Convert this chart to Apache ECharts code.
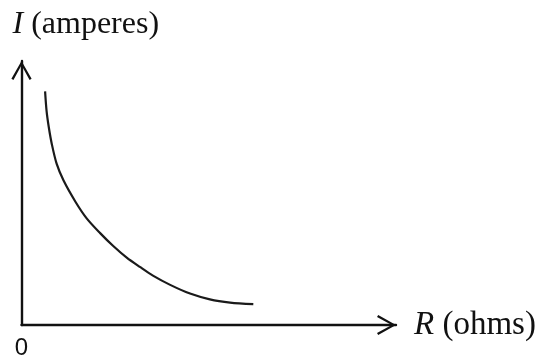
<!DOCTYPE html>
<html>
<head>
<meta charset="utf-8">
<script src="https://cdn.jsdelivr.net/npm/echarts@6/dist/echarts.min.js"></script>
<style>
  html, body { margin: 0; padding: 0; background: #fff; }
  #chart { width: 539px; height: 360px; }
</style>
</head>
<body>
<div id="chart"></div>
<script>
// Resistance values (arbitrary units along the R axis)
const resistance = [0.63, 0.67, 0.73, 0.81, 0.94, 1.12, 1.44, 1.74, 2.10, 2.45, 2.81, 3.16, 3.51, 3.97, 4.50, 5.03, 5.57, 6.19];
// Current values at each resistance (arbitrary units along the I axis)
const current = [8.85, 8.10, 7.48, 6.85, 6.10, 5.48, 4.67, 4.04, 3.48, 2.99, 2.55, 2.20, 1.87, 1.52, 1.19, 0.97, 0.85, 0.79];
// Only the origin carries a tick label
const tickLabels = ['0'];

const curve = resistance.map((r, i) => [r, current[i]]);

// Open "V" arrowhead drawn as a thin chevron outline
const chevron = 'path://M10,0 L20,17.6 L18,18.8 L10,4.2 L2,18.8 L0,17.6 Z';

const axisLine = {
  show: true,
  onZero: false,
  symbol: ['none', chevron],
  symbolSize: [21, 19],
  symbolOffset: [0, -9.5],
  lineStyle: { color: '#111', width: 2.4 }
};

const chart = echarts.init(document.getElementById('chart'), null, { renderer: 'canvas' });
chart.setOption({
  backgroundColor: '#fff',
  animation: false,
  grid: { left: 21.5, top: 61, width: 374.5, height: 267, containLabel: false },
  xAxis: {
    type: 'value',
    min: 0, max: 10, interval: 10,
    axisLine: axisLine,
    axisTick: { show: false },
    splitLine: { show: false },
    axisLabel: {
      show: true,
      margin: 11,
      fontFamily: 'Liberation Sans',
      fontSize: 24,
      color: '#111',
      formatter: v => (v === 0 ? tickLabels[0] : '')
    },
    name: '{i|R} (ohms)',
    nameLocation: 'end',
    nameGap: 18,
    nameTextStyle: {
      fontFamily: 'Liberation Serif',
      fontSize: 33,
      color: '#111',
      verticalAlign: 'middle',
      rich: { i: { fontFamily: 'Liberation Serif', fontStyle: 'italic', fontSize: 33, color: '#111' } }
    }
  },
  yAxis: {
    type: 'value',
    min: 0, max: 10, interval: 10,
    axisLine: axisLine,
    axisTick: { show: false },
    splitLine: { show: false },
    axisLabel: { show: false },
    name: '{i|I} (amperes)',
    nameLocation: 'end',
    nameGap: 20,
    nameTextStyle: {
      fontFamily: 'Liberation Serif',
      fontSize: 32,
      color: '#111',
      align: 'left',
      padding: [0, 0, 0, -9],
      rich: { i: { fontFamily: 'Liberation Serif', fontStyle: 'italic', fontSize: 32, color: '#111' } }
    }
  },
  series: [{
    type: 'line',
    data: curve,
    smooth: 0.3,
    showSymbol: false,
    lineStyle: { color: '#1a1a1a', width: 2.2 }
  }]
});
</script>
</body>
</html>
